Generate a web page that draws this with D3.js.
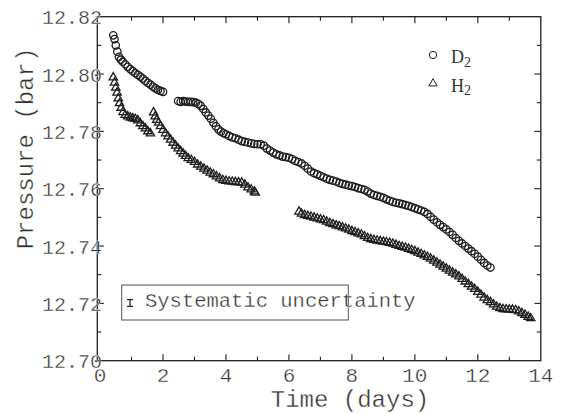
<!DOCTYPE html>
<html>
<head>
<meta charset="utf-8">
<script src="https://cdn.jsdelivr.net/npm/d3@7"></script>
<style>
  html, body { margin: 0; padding: 0; background: #fff; }
  svg { display: block; }
  text.mono { font-family: "Liberation Mono", "Courier New", monospace; fill: #333; stroke: #fff; stroke-width: 0.35px; }
</style>
</head>
<body>
<svg id="chart" width="563" height="413"></svg>
<script>
// ---------------- DATA ----------------
const d2Days = [
  0.42,0.46,0.50,0.55,0.60,0.66,0.72,0.80,0.88,0.96,1.04,1.12,1.20,1.28,1.36,1.44,1.52,1.60,1.68,1.76,1.84,1.92,2.00,
  2.48,2.56,2.64,2.72,2.80,2.88,2.96,3.04,3.12,3.20,3.28,3.36,3.44,3.52,3.60,3.68,3.76,3.84,3.92,4.00,
  4.10,4.20,4.30,4.40,4.50,4.60,4.70,4.80,4.90,5.00,5.10,5.20,5.30,5.40,5.50,5.60,5.70,5.80,5.90,6.00,
  6.10,6.20,6.30,6.40,6.50,6.60,6.70,6.80,6.90,7.00,7.10,7.20,7.30,7.40,7.50,7.60,7.70,7.80,7.90,8.00,
  8.10,8.20,8.30,8.40,8.50,8.60,8.70,8.80,8.90,9.00,9.10,9.20,9.30,9.40,9.50,9.60,9.70,9.80,9.90,10.00,
  10.10,10.20,10.30,10.40,10.50,10.60,10.70,10.80,10.90,11.00,11.10,11.20,11.30,11.40,11.50,11.60,11.70,
  11.80,11.90,12.00,12.10,12.20,12.30,12.40
];
const d2Pressure = [
  12.8135,12.8122,12.8100,12.8078,12.8060,12.8050,12.8043,12.8034,12.8025,12.8017,12.8010,12.8003,12.7997,12.7991,12.7984,12.7976,12.7969,12.7963,12.7956,12.7950,12.7945,12.7941,12.7938,
  12.7906,12.7903,12.7906,12.7904,12.7903,12.7903,12.7902,12.7900,12.7896,12.7889,12.7878,12.7866,12.7855,12.7844,12.7830,12.7818,12.7807,12.7799,12.7794,12.7790,
  12.7784,12.7779,12.7776,12.7771,12.7766,12.7763,12.7761,12.7758,12.7756,12.7755,12.7755,12.7750,12.7740,12.7733,12.7726,12.7720,12.7716,12.7712,12.7710,12.7708,
  12.7703,12.7697,12.7693,12.7688,12.7680,12.7670,12.7660,12.7654,12.7650,12.7645,12.7640,12.7635,12.7631,12.7628,12.7625,12.7620,12.7617,12.7614,12.7611,12.7609,
  12.7606,12.7602,12.7599,12.7596,12.7590,12.7583,12.7578,12.7575,12.7572,12.7568,12.7563,12.7558,12.7554,12.7551,12.7549,12.7546,12.7543,12.7540,12.7536,12.7532,
  12.7528,12.7524,12.7519,12.7512,12.7502,12.7492,12.7483,12.7474,12.7466,12.7458,12.7449,12.7439,12.7428,12.7418,12.7409,12.7400,12.7391,
  12.7382,12.7373,12.7363,12.7352,12.7341,12.7332,12.7325
];
const h2Days = [
  0.42,0.46,0.50,0.54,0.58,0.62,0.67,0.73,0.80,0.88,0.96,1.04,1.12,1.20,1.28,1.36,1.44,1.52,1.60,
  1.70,1.75,1.80,1.86,1.92,2.00,2.08,2.16,2.24,2.32,2.40,2.48,2.56,2.64,2.72,2.80,2.90,3.00,3.10,3.20,
  3.30,3.40,3.50,3.60,3.70,3.80,3.90,4.00,4.10,4.20,4.30,4.40,4.50,4.60,4.70,4.80,4.90,4.93,
  6.32,6.40,6.50,6.60,6.70,6.80,6.90,7.00,7.10,7.20,7.30,7.40,7.50,7.60,7.70,7.80,7.90,8.00,
  8.10,8.20,8.30,8.40,8.50,8.60,8.70,8.80,8.90,9.00,9.10,9.20,9.30,9.40,9.50,9.60,9.70,9.80,9.90,10.00,
  10.10,10.20,10.30,10.40,10.50,10.60,10.70,10.80,10.90,11.00,11.10,11.20,11.30,11.40,11.50,11.60,11.70,
  11.80,11.90,12.00,12.10,12.20,12.30,12.40,12.50,12.60,12.70,12.80,12.90,13.00,13.10,13.20,13.30,13.40,
  13.50,13.60,13.68
];
const h2Pressure = [
  12.7988,12.7970,12.7952,12.7935,12.7915,12.7898,12.7882,12.7867,12.7857,12.7852,12.7848,12.7845,12.7843,12.7838,12.7828,12.7818,12.7810,12.7800,12.7793,
  12.7866,12.7852,12.7840,12.7830,12.7818,12.7805,12.7793,12.7782,12.7771,12.7760,12.7750,12.7740,12.7731,12.7722,12.7714,12.7706,12.7700,12.7693,12.7684,12.7677,
  12.7670,12.7663,12.7656,12.7650,12.7643,12.7636,12.7630,12.7627,12.7625,12.7624,12.7623,12.7622,12.7621,12.7614,12.7604,12.7597,12.7590,12.7586,
  12.7520,12.7513,12.7508,12.7505,12.7502,12.7499,12.7496,12.7493,12.7490,12.7485,12.7480,12.7476,12.7472,12.7469,12.7465,12.7461,12.7457,12.7452,
  12.7448,12.7444,12.7440,12.7434,12.7428,12.7424,12.7421,12.7419,12.7417,12.7415,12.7413,12.7411,12.7408,12.7404,12.7400,12.7397,12.7394,12.7390,12.7386,12.7382,
  12.7377,12.7372,12.7367,12.7362,12.7356,12.7349,12.7342,12.7335,12.7328,12.7321,12.7314,12.7307,12.7301,12.7294,12.7285,12.7276,12.7267,
  12.7258,12.7250,12.7240,12.7230,12.7220,12.7211,12.7204,12.7196,12.7188,12.7183,12.7180,12.7179,12.7178,12.7178,12.7176,12.7172,12.7166,
  12.7160,12.7153,12.7148
];
const xTickLabels = [0, 2, 4, 6, 8, 10, 12, 14];
const xMinorTicks = [1, 3, 5, 7, 9, 11, 13];
const yTickLabels = [12.70, 12.72, 12.74, 12.76, 12.78, 12.80, 12.82];
const yMinorTicks = [12.71, 12.73, 12.75, 12.77, 12.79, 12.81];
const legendLabels = ["D", "H"];
const systematicUncertainty = 0.0024; // full height of the error-bar symbol (bar)

// ---------------- LAYOUT ----------------
const svg = d3.select("#chart");
const L = 97.3, R = 540.8, T = 16.7, B = 360.7;
const x = d3.scaleLinear().domain([-0.087, 14]).range([L, R]);
const y = d3.scaleLinear().domain([12.70, 12.82]).range([B, T]);
const ink = "#1e1e1e";

// frame
svg.append("rect").attr("x", L).attr("y", T).attr("width", R - L).attr("height", B - T)
  .attr("fill", "none").attr("stroke", ink).attr("stroke-width", 1.3);

// ticks (inward, on all four sides)
const tickG = svg.append("g").attr("stroke", ink).attr("stroke-width", 1.1);
function xt(vals, len) {
  vals.forEach(v => {
    tickG.append("line").attr("x1", x(v)).attr("x2", x(v)).attr("y1", B).attr("y2", B - len);
    tickG.append("line").attr("x1", x(v)).attr("x2", x(v)).attr("y1", T).attr("y2", T + len);
  });
}
function yt(vals, len) {
  vals.forEach(v => {
    tickG.append("line").attr("y1", y(v)).attr("y2", y(v)).attr("x1", L).attr("x2", L + len);
    tickG.append("line").attr("y1", y(v)).attr("y2", y(v)).attr("x1", R).attr("x2", R - len);
  });
}
xt(xTickLabels.filter(v => v > 0 && v < 14), 6.5);
xt(xMinorTicks, 4);
yt(yTickLabels.filter(v => v > 12.70 && v < 12.82), 6.5);
yt(yMinorTicks, 4);

// data
const plot = svg.append("g");
const d2 = d2Days.map((d, i) => [d, d2Pressure[i]]);
const h2 = h2Days.map((d, i) => [d, h2Pressure[i]]);
const tri = d3.symbol().type(d3.symbolTriangle).size(30);

plot.selectAll("circle.d2").data(d2).join("circle").attr("class", "d2")
  .attr("cx", d => x(d[0])).attr("cy", d => y(d[1])).attr("r", 3.7)
  .attr("fill", "none").attr("stroke", ink).attr("stroke-width", 1.3);
plot.selectAll("path.h2").data(h2).join("path").attr("class", "h2")
  .attr("d", tri).attr("transform", d => `translate(${x(d[0])},${y(d[1])})`)
  .attr("fill", "none").attr("stroke", ink).attr("stroke-width", 1.3);

// tick labels (drawn after the data, over the axis like the reference)
svg.append("g").selectAll("text").data(xTickLabels).join("text").attr("class", "mono")
  .attr("x", d => x(d)).attr("y", 382).attr("text-anchor", "middle")
  .attr("font-size", 21).text(d => d);
svg.append("g").selectAll("text").data(yTickLabels).join("text").attr("class", "mono")
  .attr("x", 102).attr("y", d => y(d) + 7.6).attr("text-anchor", "end")
  .attr("font-size", 20).text(d => d.toFixed(2));

// axis titles
svg.append("text").attr("class", "mono").attr("x", 350).attr("y", 406.5).attr("text-anchor", "middle")
  .attr("font-size", 24).text("Time (days)");
svg.append("text").attr("class", "mono").attr("transform", "translate(33,148.5) rotate(-90)")
  .attr("text-anchor", "middle").attr("font-size", 24).text("Pressure (bar)");

// legend
const lg = svg.append("g");
lg.append("circle").attr("cx", 433).attr("cy", 55).attr("r", 3.7)
  .attr("fill", "#fff").attr("stroke", ink).attr("stroke-width", 1);
lg.append("path").attr("d", tri).attr("transform", "translate(433,83.5)")
  .attr("fill", "#fff").attr("stroke", ink).attr("stroke-width", 1);
legendLabels.forEach((lab, i) => {
  const t = lg.append("text").attr("x", 451).attr("y", 63.3 + i * 28.5)
    .style("font-family", "'Liberation Serif', 'Times New Roman', serif").attr("fill", "#333").attr("font-size", 18);
  t.append("tspan").text(lab);
  t.append("tspan").attr("font-size", 14).attr("dy", 3.5).text("2");
});

// systematic uncertainty box
svg.append("rect").attr("x", 121.7).attr("y", 285).attr("width", 226.6).attr("height", 35)
  .attr("fill", "none").attr("stroke", "#555").attr("stroke-width", 1);
const ebY = 303, ebH = y(12.75) - y(12.75 + systematicUncertainty);
const eb = svg.append("g").attr("stroke", ink).attr("stroke-width", 1.2);
eb.append("line").attr("x1", 130).attr("x2", 130).attr("y1", ebY - ebH / 2).attr("y2", ebY + ebH / 2);
eb.append("line").attr("x1", 127).attr("x2", 133).attr("y1", ebY - ebH / 2).attr("y2", ebY - ebH / 2);
eb.append("line").attr("x1", 127).attr("x2", 133).attr("y1", ebY + ebH / 2).attr("y2", ebY + ebH / 2);
svg.append("text").attr("class", "mono").attr("x", 145).attr("y", 307.3).attr("font-size", 20.5).text("Systematic uncertainty");
</script>
</body>
</html>
